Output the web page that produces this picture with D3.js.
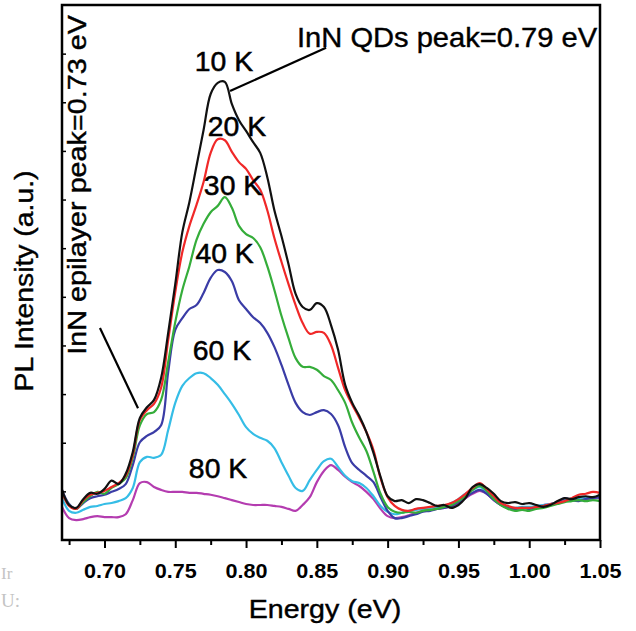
<!DOCTYPE html>
<html>
<head>
<meta charset="utf-8">
<script src="https://cdn.jsdelivr.net/npm/d3@7"></script>
<style>
  html, body { margin: 0; padding: 0; background: #fff; }
  svg { display: block; }
</style>
</head>
<body>
<svg id="chart" width="636" height="631"></svg>
<script>
// Photoluminescence spectra of InN quantum dots at several temperatures.
// Energy grid (eV), sampled every 5 meV from 0.670 to 1.050.
const energy = d3.range(77).map(i => +(0.67 + i * 0.005).toFixed(3));

// PL intensity (a.u.) for each temperature, one value per energy sample.
const pl10K = [
  1.03, 0.72, 0.66, 0.84, 0.97, 0.95, 1.05, 1.22, 1.15, 1.36,
  1.81, 2.51, 2.73, 2.88, 3.33, 4.26, 5.26, 6.33, 6.95, 7.69,
  8.43, 9.17, 9.40, 9.42, 8.96, 8.63, 8.41, 8.18, 7.96, 7.46,
  6.78, 6.25, 5.67, 5.06, 4.79, 4.73, 4.87, 4.79, 4.42, 3.91,
  3.19, 2.82, 2.55, 2.22, 1.79, 1.30, 0.90, 0.80, 0.82, 0.76,
  0.84, 0.82, 0.76, 0.70, 0.72, 0.66, 0.72, 0.86, 1.09, 1.15,
  1.07, 0.95, 0.80, 0.76, 0.78, 0.74, 0.76, 0.72, 0.68, 0.72,
  0.80, 0.86, 0.84, 0.88, 0.90, 0.88, 0.93
];
const pl20K = [
  0.99, 0.70, 0.64, 0.82, 0.93, 0.97, 1.01, 1.09, 1.17, 1.32,
  1.75, 2.47, 2.67, 2.80, 3.13, 4.11, 5.10, 5.92, 6.46, 6.89,
  7.36, 7.96, 8.24, 8.22, 7.98, 7.77, 7.63, 7.40, 7.20, 6.78,
  6.21, 5.72, 5.26, 4.83, 4.46, 4.24, 4.28, 4.26, 4.01, 3.54,
  3.08, 2.78, 2.51, 2.22, 1.85, 1.27, 0.88, 0.70, 0.62, 0.60,
  0.64, 0.66, 0.68, 0.70, 0.72, 0.76, 0.84, 0.95, 1.07, 1.17,
  1.05, 0.90, 0.76, 0.70, 0.66, 0.66, 0.66, 0.68, 0.70, 0.74,
  0.76, 0.80, 0.86, 0.93, 0.95, 0.99, 0.97
];
const pl30K = [
  0.97, 0.72, 0.64, 0.78, 0.90, 0.99, 0.95, 1.07, 1.15, 1.27,
  1.69, 2.36, 2.59, 2.63, 2.88, 3.66, 4.48, 5.14, 5.63, 6.17,
  6.50, 6.74, 6.87, 7.05, 6.83, 6.46, 6.29, 6.21, 6.02, 5.63,
  5.14, 4.61, 4.15, 3.74, 3.56, 3.56, 3.50, 3.37, 3.29, 3.08,
  2.82, 2.41, 2.10, 1.83, 1.40, 0.95, 0.68, 0.58, 0.56, 0.58,
  0.56, 0.60, 0.62, 0.64, 0.68, 0.72, 0.80, 0.90, 1.03, 1.11,
  1.01, 0.84, 0.72, 0.64, 0.60, 0.62, 0.60, 0.64, 0.66, 0.70,
  0.74, 0.78, 0.80, 0.82, 0.80, 0.82, 0.80
];
const pl40K = [
  1.03, 0.74, 0.64, 0.76, 0.86, 0.90, 0.93, 0.99, 1.05, 1.15,
  1.54, 2.01, 2.14, 2.22, 2.36, 3.45, 4.32, 4.56, 4.75, 4.83,
  5.08, 5.39, 5.55, 5.51, 5.32, 4.93, 4.75, 4.58, 4.46, 4.26,
  3.97, 3.60, 3.19, 2.82, 2.63, 2.57, 2.63, 2.67, 2.59, 2.36,
  1.91, 1.58, 1.44, 1.32, 1.19, 0.88, 0.60, 0.45, 0.45, 0.49,
  0.53, 0.58, 0.60, 0.64, 0.66, 0.70, 0.78, 0.88, 0.97, 1.03,
  0.95, 0.82, 0.72, 0.66, 0.64, 0.66, 0.64, 0.66, 0.70, 0.72,
  0.76, 0.86, 0.82, 0.80, 0.84, 0.86, 0.88
];
const pl60K = [
  0.86, 0.60, 0.56, 0.62, 0.68, 0.70, 0.74, 0.76, 0.80, 0.86,
  1.07, 1.60, 1.71, 1.69, 1.75, 2.26, 2.82, 3.17, 3.33, 3.43,
  3.43, 3.33, 3.19, 3.00, 2.80, 2.57, 2.32, 2.18, 2.10, 2.04,
  1.89, 1.60, 1.32, 1.07, 1.01, 1.23, 1.44, 1.62, 1.67, 1.50,
  1.32, 1.21, 1.17, 1.07, 0.90, 0.70, 0.58, 0.53, 0.56, 0.60,
  0.62, 0.64, 0.66, 0.68, 0.70, 0.76, 0.84, 0.95, 1.03, 1.09,
  0.99, 0.84, 0.74, 0.68, 0.66, 0.68, 0.68, 0.70, 0.72, 0.74,
  0.78, 0.82, 0.84, 0.86, 0.88, 0.88, 0.88
];
const pl80K = [
  0.68, 0.45, 0.41, 0.43, 0.47, 0.49, 0.47, 0.47, 0.47, 0.53,
  0.82, 1.17, 1.19, 1.09, 1.03, 0.99, 0.99, 0.99, 0.97, 0.97,
  0.95, 0.93, 0.90, 0.86, 0.82, 0.78, 0.74, 0.72, 0.72, 0.72,
  0.70, 0.68, 0.64, 0.60, 0.72, 0.88, 1.19, 1.42, 1.54, 1.44,
  1.30, 1.19, 1.11, 0.99, 0.84, 0.64, 0.49, 0.45, 0.47, 0.51,
  0.56, 0.60, 0.62, 0.64, 0.66, 0.70, 0.76, 0.86, 0.95, 1.01,
  0.95, 0.82, 0.72, 0.66, 0.64, 0.66, 0.66, 0.68, 0.72, 0.74,
  0.78, 0.80, 0.82, 0.84, 0.84, 0.86, 0.86
];

// Series in drawing order (lowest temperature drawn last, on top).
const temperatures = ["80 K", "60 K", "40 K", "30 K", "20 K", "10 K"];
const seriesValues = [pl80K, pl60K, pl40K, pl30K, pl20K, pl10K];
const seriesColors = ["#b43cb0", "#35bde6", "#3a3ca6", "#35ad3a", "#f02828", "#111111"];

// Temperature labels: [energy, intensity] anchor of each label.
const tempLabelPos = {
  "10 K": [0.7844, 9.64],
  "20 K": [0.7936, 8.31],
  "30 K": [0.7908, 7.09],
  "40 K": [0.7848, 5.69],
  "60 K": [0.7830, 3.70],
  "80 K": [0.7802, 1.27]
};

// Axis ticks.
const majorTicks = [0.70, 0.75, 0.80, 0.85, 0.90, 0.95, 1.00, 1.05];
const minorTicks = [0.675, 0.725, 0.775, 0.825, 0.875, 0.925, 0.975, 1.025];
const yTicks = [1, 2, 3, 4, 5, 6, 7, 8, 9, 10];

// Annotations.
const qdText = "InN QDs peak=0.79 eV";
const qdLeader = [[0.7887, 9.23], [0.8565, 10.12]];
const qdTextPos = [0.836, 10.14];
const epiText = "InN epilayer peak=0.73 eV";
const epiLeader = [[0.6968, 4.36], [0.7237, 2.71]];
const epiTextPos = [0.687, 7.30];

const FONT = "'Liberation Sans', Arial, Helvetica, sans-serif";

const svg = d3.select("#chart");
const plot = { left: 62, right: 600, top: 5, bottom: 540 };

const x = d3.scaleLinear().domain([0.67, 1.05]).range([plot.left, plot.right]);
const y = d3.scaleLinear().domain([0, 11]).range([plot.bottom, plot.top]);

function label(g, px, py, str, o = {}) {
  const t = g.append("text")
    .attr("transform", `translate(${px},${py}) rotate(${o.rotate || 0}) scale(${o.sx || 1},1)`)
    .attr("text-anchor", o.anchor || "start")
    .attr("font-family", o.family || FONT)
    .attr("font-size", o.size || 26)
    .attr("font-weight", o.weight || "normal")
    .attr("fill", o.fill || "#000")
    .text(str);
  if (o.heavy) t.attr("stroke", o.fill || "#000").attr("stroke-width", o.heavy);
  return t;
}

// Spectra
const line = d3.line()
  .x((d, i) => x(energy[i]))
  .y(d => y(d))
  .curve(d3.curveCatmullRom.alpha(0.5));

svg.append("g")
  .selectAll("path")
  .data(seriesValues)
  .join("path")
  .attr("d", d => line(d))
  .attr("fill", "none")
  .attr("stroke", (d, i) => seriesColors[i])
  .attr("stroke-width", 2.2)
  .attr("stroke-linejoin", "round");

// Bottom axis: labelled major ticks plus unlabelled minor ticks
const xAxis = svg.append("g")
  .attr("transform", `translate(0,${plot.bottom})`)
  .call(d3.axisBottom(x).tickValues(majorTicks).tickSize(8).tickSizeOuter(0)
    .tickFormat(d3.format(".2f")));
xAxis.select(".domain").remove();
xAxis.selectAll(".tick line").attr("stroke", "#000").attr("stroke-width", 2);
xAxis.selectAll(".tick text")
  .attr("y", 38).attr("dy", null)
  .attr("transform", "scale(1.08,1)")
  .attr("font-family", FONT).attr("font-size", 20).attr("font-weight", "bold")
  .attr("fill", "#000");

const xMinor = svg.append("g")
  .attr("transform", `translate(0,${plot.bottom})`)
  .call(d3.axisBottom(x).tickValues(minorTicks).tickSize(5).tickSizeOuter(0).tickFormat(""));
xMinor.select(".domain").remove();
xMinor.selectAll(".tick line").attr("stroke", "#000").attr("stroke-width", 2);

// Left axis: short inward ticks, no labels
const yAxis = svg.append("g")
  .attr("transform", `translate(${plot.left},0)`)
  .call(d3.axisLeft(y).tickValues(yTicks).tickSize(-4).tickSizeOuter(0).tickFormat(""));
yAxis.select(".domain").remove();
yAxis.selectAll(".tick line").attr("stroke", "#000").attr("stroke-width", 1.5);

// Plot frame
svg.append("rect")
  .attr("x", plot.left).attr("y", plot.top)
  .attr("width", plot.right - plot.left).attr("height", plot.bottom - plot.top)
  .attr("fill", "none").attr("stroke", "#000").attr("stroke-width", 2.5);

// Axis titles
label(svg, 325, 618, "Energy (eV)", { anchor: "middle", size: 26, sx: 1.1, heavy: 0.4 });
label(svg, 33, 281, "PL Intensity (a.u.)", { anchor: "middle", size: 26, sx: 1.09, rotate: -90, heavy: 0.4 });

// Temperature labels
temperatures.forEach(t => {
  const p = tempLabelPos[t];
  label(svg, x(p[0]), y(p[1]), t, { anchor: "middle", size: 27, sx: 1.05, heavy: 0.5 });
});

// Peak annotations
const seg = d3.line().x(d => x(d[0])).y(d => y(d[1]));
svg.append("path").attr("d", seg(qdLeader)).attr("stroke", "#000").attr("stroke-width", 2.2).attr("fill", "none");
svg.append("path").attr("d", seg(epiLeader)).attr("stroke", "#000").attr("stroke-width", 2.2).attr("fill", "none");
label(svg, x(qdTextPos[0]), y(qdTextPos[1]), qdText, { size: 28, sx: 1.04, heavy: 0.4 });
label(svg, x(epiTextPos[0]), y(epiTextPos[1]), epiText, { anchor: "middle", size: 25, sx: 1.15, rotate: -90, heavy: 0.4 });

// Faint page remnants at the lower-left margin
label(svg, 1, 579, "Ir", { size: 17, family: "'Liberation Serif', 'DejaVu Serif', serif", fill: "#c4c4c4" });
label(svg, 1, 607, "U:", { size: 19, family: "'Liberation Serif', 'DejaVu Serif', serif", fill: "#c4c4c4" });
</script>
</body>
</html>
